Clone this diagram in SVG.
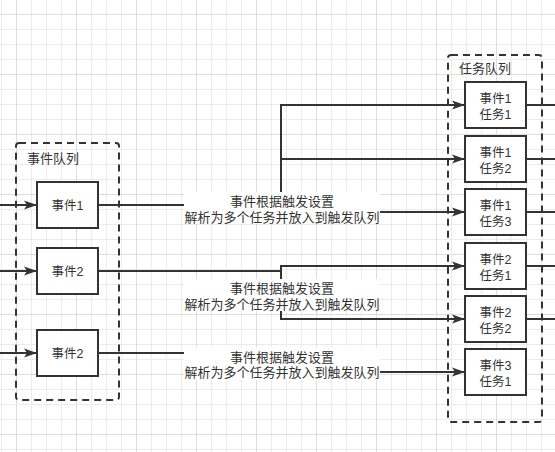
<svg xmlns="http://www.w3.org/2000/svg" width="555" height="452" viewBox="0 0 555 452">
<style>
.t{font-family:"Liberation Sans","Noto Sans CJK SC",sans-serif;fill:#333;}
.bt{font-size:12.5px;text-anchor:middle;}
.lt{font-size:13px;text-anchor:middle;}
.ct{font-size:13px;}
.box{fill:#fff;stroke:#333;stroke-width:2;}
.cont{fill:none;stroke:#333;stroke-width:2;stroke-dasharray:7 5;}
.e{fill:none;stroke:#333;stroke-width:2;}
.ea{fill:none;stroke:#333;stroke-width:2;marker-end:url(#arr);}
.lbg{fill:#fff;}
</style>
<defs>
<pattern id="gmin" patternUnits="userSpaceOnUse" x="1" y="-1" width="15" height="15">
<path d="M0.5,0V15M0,0.5H15" stroke="#ebebeb" stroke-width="1" fill="none"/>
</pattern>
<pattern id="gmaj" patternUnits="userSpaceOnUse" x="16" y="14" width="60" height="60">
<path d="M0.5,0V60M0,0.5H60" stroke="#dddddd" stroke-width="1" fill="none"/>
</pattern>
<marker id="arr" markerUnits="userSpaceOnUse" markerWidth="14" markerHeight="10" refX="13" refY="5" orient="auto">
<path d="M0,0.5L13,5L0,9.5L3,5Z" fill="#333"/>
</marker>
</defs>
<rect width="555" height="452" fill="#fff"/>
<rect width="555" height="452" fill="url(#gmin)"/>
<rect width="555" height="452" fill="url(#gmaj)"/>

<g id="event-queue">
<rect class="cont" x="16" y="143" width="103" height="257" rx="3"/>
<text class="t ct" x="27" y="162.5">事件队列</text>
</g>
<g id="task-queue">
<rect class="cont" x="448" y="55" width="94" height="367" rx="3"/>
<text class="t ct" x="459" y="72.5">任务队列</text>
</g>

<g id="connectors">
<path class="ea" d="M0,205H37"/>
<path class="ea" d="M0,271H37"/>
<path class="ea" d="M0,353H37"/>
<path class="ea" d="M98,205H281V105H465"/>
<path class="ea" d="M281,205V159H465"/>
<path class="ea" d="M281,205V212H465"/>
<path class="ea" d="M98,271H281V266H465"/>
<path class="ea" d="M281,271V319H465"/>
<path class="ea" d="M98,353H281V372H465"/>
<path class="e" d="M526,105H555M526,159H555M526,212H555M526,266H555M526,319H555"/>
</g>

<g id="label1">
<rect class="lbg" x="184" y="192" width="196" height="32"/>
<text class="t lt" x="282" y="206">事件根据触发设置</text>
<text class="t lt" x="282" y="222">解析为多个任务并放入到触发队列</text>
</g>
<g id="label2">
<rect class="lbg" x="184" y="279" width="196" height="32"/>
<text class="t lt" x="282" y="293">事件根据触发设置</text>
<text class="t lt" x="282" y="308.5">解析为多个任务并放入到触发队列</text>
</g>
<g id="label3">
<rect class="lbg" x="184" y="347" width="196" height="33"/>
<text class="t lt" x="282" y="361.5">事件根据触发设置</text>
<text class="t lt" x="282" y="376.5">解析为多个任务并放入到触发队列</text>
</g>

<g id="event1">
<rect class="box" x="37" y="182" width="61" height="46"/>
<text class="t bt" x="67.5" y="209.5">事件1</text>
</g>
<g id="event2a">
<rect class="box" x="37" y="248" width="61" height="46"/>
<text class="t bt" x="67.5" y="275.5">事件2</text>
</g>
<g id="event2b">
<rect class="box" x="37" y="330" width="61" height="46"/>
<text class="t bt" x="67.5" y="357.5">事件2</text>
</g>

<g id="task-e1t1">
<rect class="box" x="465" y="82" width="61" height="46"/>
<text class="t bt" x="495.5" y="102.5">事件1</text>
<text class="t bt" x="495.5" y="118.5">任务1</text>
</g>
<g id="task-e1t2">
<rect class="box" x="465" y="136" width="61" height="46"/>
<text class="t bt" x="495.5" y="156.5">事件1</text>
<text class="t bt" x="495.5" y="172.5">任务2</text>
</g>
<g id="task-e1t3">
<rect class="box" x="465" y="189" width="61" height="46"/>
<text class="t bt" x="495.5" y="209.5">事件1</text>
<text class="t bt" x="495.5" y="225.5">任务3</text>
</g>
<g id="task-e2t1">
<rect class="box" x="465" y="243" width="61" height="46"/>
<text class="t bt" x="495.5" y="263.5">事件2</text>
<text class="t bt" x="495.5" y="279.5">任务1</text>
</g>
<g id="task-e2t2">
<rect class="box" x="465" y="296" width="61" height="46"/>
<text class="t bt" x="495.5" y="316.5">事件2</text>
<text class="t bt" x="495.5" y="332.5">任务2</text>
</g>
<g id="task-e3t1">
<rect class="box" x="465" y="349" width="61" height="46"/>
<text class="t bt" x="495.5" y="369.5">事件3</text>
<text class="t bt" x="495.5" y="385.5">任务1</text>
</g>
</svg>
